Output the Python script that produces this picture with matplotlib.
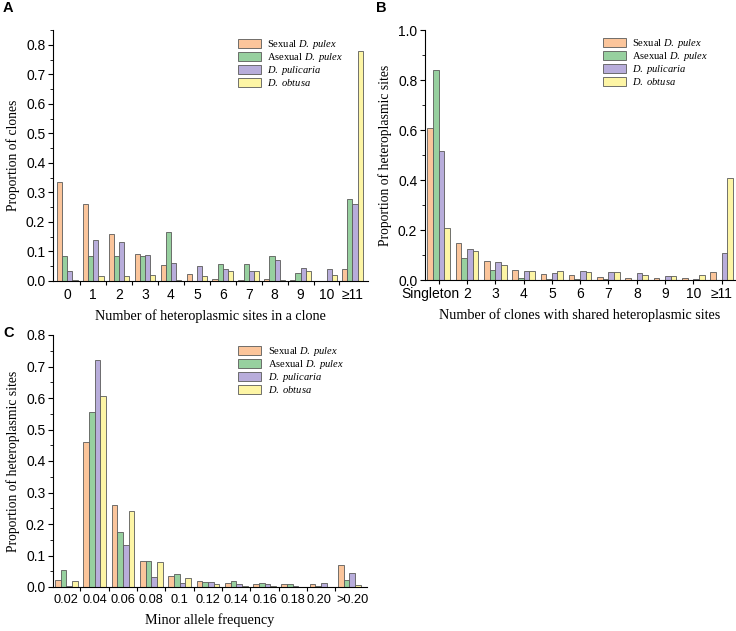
import numpy as np
import matplotlib
matplotlib.use("Agg")
import matplotlib.pyplot as plt
import matplotlib.transforms as mtransforms
from matplotlib.patches import Patch

plt.rcParams['mathtext.fontset'] = 'custom'
plt.rcParams['mathtext.rm'] = 'Liberation Serif'
plt.rcParams['mathtext.it'] = 'Liberation Serif:italic'

# series names and colours
series = ['Sexual $\\it{D.\\ pulex}$', 'Asexual $\\it{D.\\ pulex}$',
          '$\\it{D.\\ pulicaria}$', '$\\it{D.\\ obtusa}$']
colors = ['#FBC59B', '#97D09F', '#B8ADDB', '#FDF5A5']

# Panel A: heteroplasmic sites per clone
cats_a = ['0', '1', '2', '3', '4', '5', '6', '7', '8', '9', '10', '≥11']
sex_a = [0.335, 0.262, 0.160, 0.093, 0.055, 0.025, 0.008, 0.002, 0.008, 0.002, 0.0, 0.040]
asex_a = [0.083, 0.083, 0.083, 0.083, 0.166, 0.0, 0.056, 0.056, 0.083, 0.028, 0.0, 0.277]
pulic_a = [0.035, 0.138, 0.133, 0.088, 0.060, 0.050, 0.040, 0.033, 0.070, 0.045, 0.040, 0.262]
obt_a = [0.005, 0.017, 0.017, 0.022, 0.005, 0.017, 0.035, 0.035, 0.005, 0.035, 0.022, 0.780]

# Panel B: clones sharing heteroplasmic sites
cats_b = ['Singleton', '2', '3', '4', '5', '6', '7', '8', '9', '10', '≥11']
sex_b = [0.610, 0.150, 0.075, 0.042, 0.023, 0.020, 0.013, 0.010, 0.008, 0.008, 0.032]
asex_b = [0.840, 0.090, 0.040, 0.010, 0.004, 0.003, 0.003, 0.001, 0.0, 0.0, 0.0]
pulic_b = [0.515, 0.123, 0.072, 0.036, 0.028, 0.035, 0.032, 0.028, 0.016, 0.005, 0.110]
obt_b = [0.210, 0.115, 0.060, 0.036, 0.035, 0.033, 0.032, 0.020, 0.016, 0.020, 0.410]

# Panel C: minor allele frequency
cats_c = ['0.02', '0.04', '0.06', '0.08', '0.1', '0.12', '0.14', '0.16', '0.18', '0.20', '>0.20']
sex_c = [0.022, 0.460, 0.260, 0.083, 0.034, 0.020, 0.013, 0.010, 0.010, 0.010, 0.070]
asex_c = [0.055, 0.555, 0.176, 0.083, 0.042, 0.017, 0.020, 0.013, 0.008, 0.002, 0.023]
pulic_c = [0.003, 0.720, 0.132, 0.032, 0.013, 0.015, 0.010, 0.008, 0.004, 0.013, 0.045]
obt_c = [0.020, 0.607, 0.242, 0.080, 0.027, 0.010, 0.004, 0.002, 0.001, 0.0, 0.007]

serif = 'Liberation Serif'
sans = 'Liberation Sans'
TICK_FS = 10


def panel(ax, cats, data, ylim, yticks, xlim, xlabel, ylabel, tick_between, leg_xy, xfs=TICK_FS):
    x = np.arange(len(cats))
    w = 0.2
    for i, vals in enumerate(data):
        ax.bar(x + (i - 1.5) * w, vals, w, color=colors[i], edgecolor='#5a5a5a', lw=0.6)
    ax.set_xlim(*xlim)
    ax.set_ylim(*ylim)
    ax.set_yticks(yticks)
    ax.set_yticklabels([f'{t:.1f}' for t in yticks], family=sans, fontsize=TICK_FS)
    step = yticks[1] - yticks[0]
    ax.set_yticks(np.arange(0, ylim[1] + 1e-9, step / 2), minor=True)
    if tick_between:
        ax.set_xticks(x[:-1] + 0.5)
        ax.set_xticklabels([])
        ax.set_xticks(x, minor=True)
        ax.set_xticklabels(cats, minor=True, family=sans, fontsize=xfs)
        ax.tick_params(axis='x', which='minor', length=0, pad=5)
        ax.tick_params(axis='x', which='major', length=3)
    else:
        ax.set_xticks(x)
        ax.set_xticklabels(cats, family=sans, fontsize=xfs)
        ax.tick_params(axis='x', length=3, pad=2)
    ax.tick_params(axis='y', which='major', length=3.5, pad=2)
    ax.tick_params(axis='y', which='minor', length=2)
    for s in ['top', 'right']:
        ax.spines[s].set_visible(False)
    ax.set_xlabel(xlabel, family=serif, fontsize=10.2, labelpad=5)
    ax.set_ylabel(ylabel, family=serif, fontsize=9.8, labelpad=4)
    handles = [Patch(facecolor=colors[i], edgecolor='#5a5a5a', lw=0.6) for i in range(4)]
    ax.legend(handles, series, loc='upper left', bbox_to_anchor=leg_xy, frameon=False,
              prop={'family': serif, 'size': 7.6}, borderpad=0, borderaxespad=0,
              handlelength=2.2, handleheight=1.0, labelspacing=0.0, handletextpad=0.6)


def shift_label(lab, dx_px):
    lab.set_transform(lab.get_transform() +
                      mtransforms.ScaledTranslation(dx_px / 100, 0, fig.dpi_scale_trans))


fig = plt.figure(figsize=(7.36, 6.31), dpi=100)
W, H = 736, 631


def axes_px(l, t, r, b):
    return fig.add_axes([l / W, 1 - b / H, (r - l) / W, (b - t) / H])


ax_a = axes_px(53, 30, 368, 281)
panel(ax_a, cats_a, [sex_a, asex_a, pulic_a, obt_a], (0, 0.85), np.arange(0, 0.81, 0.1),
      (-0.55, 11.6), 'Number of heteroplasmic sites in a clone', 'Proportion of clones',
      True, (0.587, 0.968))

ax_b = axes_px(425, 30, 735, 280)
panel(ax_b, cats_b, [sex_b, asex_b, pulic_b, obt_b], (0, 1.0), np.arange(0, 1.01, 0.2),
      (-0.48, 10.47), 'Number of clones with shared heteroplasmic sites',
      'Proportion of heteroplasmic sites', False, (0.574, 0.972))
# "Singleton" sits a little left of its group in the original
shift_label(ax_b.get_xticklabels()[0], -8)

ax_c = axes_px(53, 335, 367, 587)
panel(ax_c, cats_c, [sex_c, asex_c, pulic_c, obt_c], (0, 0.8), np.arange(0, 0.81, 0.1),
      (-0.47, 10.62), 'Minor allele frequency', 'Proportion of heteroplasmic sites',
      True, (0.589, 0.96), xfs=9.2)
labs_c = ax_c.get_xticklabels(minor=True)
shift_label(labs_c[-2], -2)
shift_label(labs_c[-1], 3)

for lab, (px, py) in zip('ABC', [(3, 8), (376, 8), (3, 333)]):
    fig.text(px / W, 1 - py / H, lab, family=sans, weight='bold', fontsize=10.5,
             ha='left', va='center')

fig.savefig('out.png', dpi=100)
